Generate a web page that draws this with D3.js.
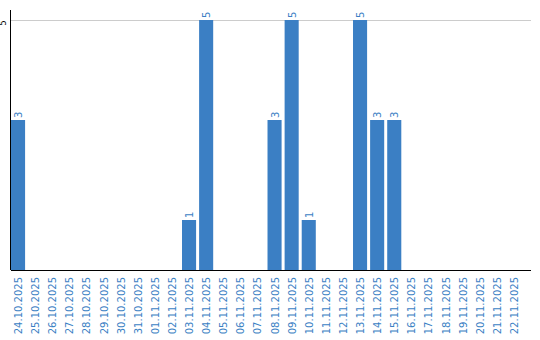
<!DOCTYPE html>
<html>
<head>
<meta charset="utf-8">
<script src="https://cdn.jsdelivr.net/npm/d3@7"></script>
<style>
  body { margin: 0; background: #fff; }
  svg { display: block; font-family: "DejaVu Sans", Verdana, sans-serif; }
</style>
</head>
<body>
<div id="chart"></div>
<script>
// chart data
var dates = ["24.10.2025", "25.10.2025", "26.10.2025", "27.10.2025", "28.10.2025",
    "29.10.2025", "30.10.2025", "31.10.2025", "01.11.2025", "02.11.2025",
    "03.11.2025", "04.11.2025", "05.11.2025", "06.11.2025", "07.11.2025",
    "08.11.2025", "09.11.2025", "10.11.2025", "11.11.2025", "12.11.2025",
    "13.11.2025", "14.11.2025", "15.11.2025", "16.11.2025", "17.11.2025",
    "18.11.2025", "19.11.2025", "20.11.2025", "21.11.2025", "22.11.2025"];
var counts = [3, 0, 0, 0, 0, 0, 0, 0, 0, 0,
    1, 5, 0, 0, 0, 3, 5, 1, 0, 0,
    5, 3, 3, 0, 0, 0, 0, 0, 0, 0];
var yTicks = [5];

var svgWidth = 540;
var svgHeight = 340;

var margin = {
    top: 20,
    bottom: 70,
    right: 9,
    left: 11
};

var height = svgHeight - margin.top - margin.bottom;
var width = svgWidth - margin.left - margin.right;

var barColor = "#3b7fc4";
var labelColor = "#3b7fc4";

var svg = d3.select("#chart")
    .append("svg")
    .attr("width", svgWidth)
    .attr("height", svgHeight);

var chartGroup = svg.append("g")
    .attr("transform", `translate(${margin.left}, ${margin.top})`);

// scales
var xBandScale = d3.scaleBand()
    .domain(dates)
    .range([0, 17 * dates.length])
    .paddingInner(3 / 17)
    .paddingOuter(0)
    .align(0);

var yLinearScale = d3.scaleLinear()
    .domain([0, d3.max(counts)])
    .range([height, 0]);

// gridlines
chartGroup.selectAll(".grid")
    .data(yTicks)
    .enter()
    .append("line")
    .attr("x1", 0)
    .attr("x2", width)
    .attr("y1", d => Math.round(yLinearScale(d)) + 0.5)
    .attr("y2", d => Math.round(yLinearScale(d)) + 0.5)
    .attr("stroke", "#cccccc")
    .attr("stroke-width", 1);

// bars
var data = dates.map((d, i) => ({ date: d, value: counts[i] }));

chartGroup.selectAll(".bar")
    .data(data.filter(d => d.value > 0))
    .enter()
    .append("rect")
    .attr("x", d => xBandScale(d.date))
    .attr("y", d => yLinearScale(d.value))
    .attr("width", xBandScale.bandwidth())
    .attr("height", d => height - yLinearScale(d.value))
    .attr("fill", barColor);

// value labels
chartGroup.selectAll(".valueText")
    .data(data.filter(d => d.value > 0))
    .enter()
    .append("text")
    .attr("transform", d => `translate(${xBandScale(d.date) + xBandScale.bandwidth() / 2 + 4}, ${yLinearScale(d.value) - 2}) rotate(-90)`)
    .attr("text-anchor", "start")
    .attr("font-size", "10px")
    .attr("fill", labelColor)
    .text(d => d.value);

// x axis
var xAxis = chartGroup.append("g")
    .attr("transform", `translate(0, ${height})`);

xAxis.append("line")
    .attr("x1", 0)
    .attr("x2", width)
    .attr("y1", 0.5)
    .attr("y2", 0.5)
    .attr("stroke", "#000")
    .attr("stroke-width", 1.2);

xAxis.selectAll(".xlabel")
    .data(dates)
    .enter()
    .append("text")
    .attr("transform", d => `translate(${xBandScale(d) + xBandScale.bandwidth() / 2 + 4}, 7) rotate(-90)`)
    .attr("text-anchor", "end")
    .attr("font-size", "10px")
    .attr("fill", labelColor)
    .text(d => d);

// y axis
var yAxis = chartGroup.append("g");

yAxis.append("line")
    .attr("x1", -0.5)
    .attr("x2", -0.5)
    .attr("y1", -10)
    .attr("y2", height)
    .attr("stroke", "#000")
    .attr("stroke-width", 1);

yAxis.selectAll(".ytick")
    .data(yTicks)
    .enter()
    .append("text")
    .attr("transform", d => `translate(-5, ${yLinearScale(d) + 3}) rotate(-90)`)
    .attr("text-anchor", "middle")
    .attr("font-size", "8px")
    .attr("fill", "#000")
    .text(d => d);
</script>
</body>
</html>
